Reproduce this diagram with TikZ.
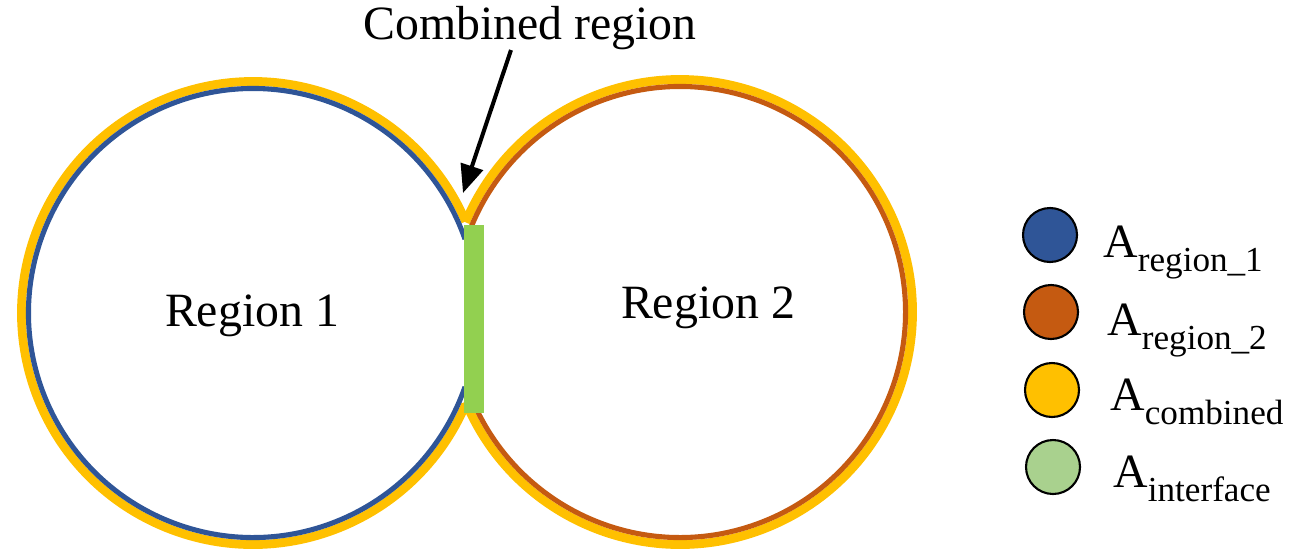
\documentclass[tikz,border=0pt]{standalone}
\usepackage{fontspec}
\setmainfont{Liberation Serif}
\usetikzlibrary{arrows.meta}
\definecolor{cblue}{HTML}{2F5597}
\definecolor{corange}{HTML}{C55A11}
\definecolor{cyellow}{HTML}{FFC000}
\definecolor{cgreen}{HTML}{92D050}
\definecolor{clgreen}{HTML}{A9D18E}
\newcommand{\bigtxt}{\fontsize{27.2}{32}\selectfont}
\newcommand{\subtxt}{\fontsize{20}{23}\selectfont}
\newcommand{\legA}[1]{{\bigtxt A}\raisebox{-8.5pt}{\subtxt #1}}
\begin{document}
\begin{tikzpicture}[x=0.02cm,y=-0.02cm,
  ring/.style={line width=5pt,cyellow},
  inner1/.style={line width=2.9pt,cblue},
  inner2/.style={line width=2.9pt,corange},
  lab/.style={inner sep=0pt,font=\bigtxt},
  legdot/.style={circle,draw=black,line width=1.2pt,minimum size=54*0.02cm,inner sep=0pt},
  legtxt/.style={anchor=base west,inner sep=0pt}]
\useasboundingbox (0,0) rectangle (1307,552);
% yellow outer rings
\draw[ring] ([shift={(253,313)}]23.3:231.5) arc[start angle=23.3,end angle=336.7,radius=231.5];
\draw[ring] ([shift={(680,312)}]157.3:232.5) arc[start angle=157.3,end angle=-157.3,radius=232.5];
% inner coloured rings
\draw[inner1] ([shift={(253,313)}]19.2:224.5) arc[start angle=19.2,end angle=340.8,radius=224.5];
\draw[inner2] ([shift={(680,312)}]161.2:225.5) arc[start angle=161.2,end angle=-161.2,radius=225.5];
% interface bar
\fill[cgreen] (464,225) rectangle (484,413);
% labels
\node[lab] (r1) at (252,316) {Region 1};
\node[lab] (r2) at (708,308) {Region 2};
\node[lab] (comb) at (530,28) {Combined region};
\coordinate (astart) at (511,50);
\coordinate (atip) at (463,193);
\draw[line width=2.3pt,-{Triangle[length=16pt,width=13pt]}] (astart) -- (atip);
% legend
\node[legdot,fill=cblue] (l1) at (1050,235) {};
\node[legdot,fill=corange] (l2) at (1051,312) {};
\node[legdot,fill=cyellow] (l3) at (1052,390) {};
\node[legdot,fill=clgreen] (l4) at (1053,467) {};
\node[legtxt] (t1) at (1103,257) {\legA{region\_1}};
\node[legtxt] (t2) at (1107,335) {\legA{region\_2}};
\node[legtxt] (t3) at (1110,410) {\legA{combined}};
\node[legtxt] (t4) at (1113,487) {\legA{interface}};
\end{tikzpicture}
\end{document}
